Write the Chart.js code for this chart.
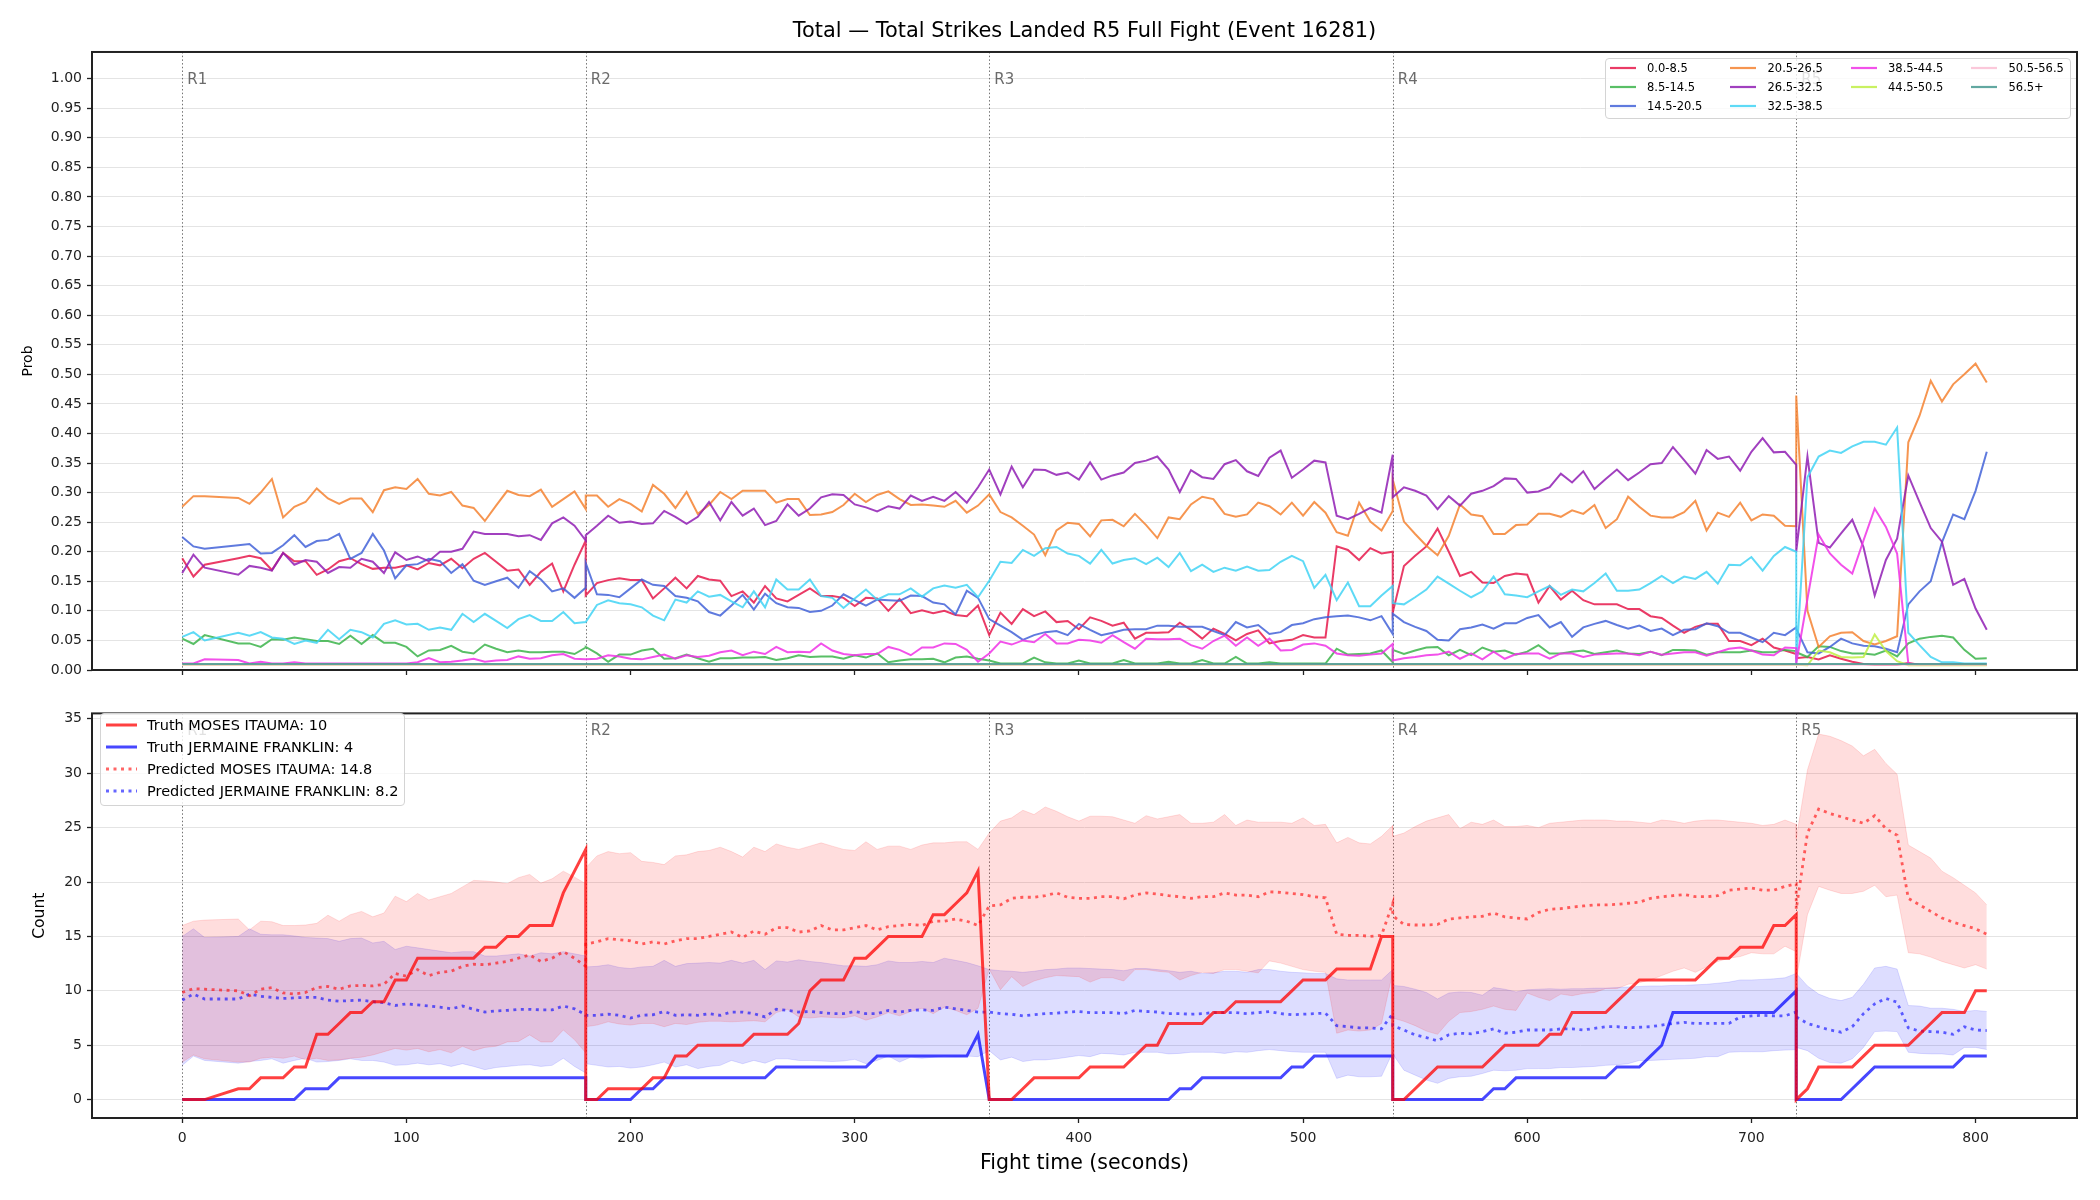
<!DOCTYPE html>
<html>
<head>
<meta charset="utf-8">
<script src="https://cdn.jsdelivr.net/npm/chart.js@4.4.1/dist/chart.umd.min.js"></script>
<style>
body { margin: 0; background: #fff; font-family: 'DejaVu Sans', sans-serif; }
#wrap { position: relative; width: 2100px; height: 1200px; overflow: hidden; }
canvas { position: absolute; left: 0; }
.legend { position: absolute; background: rgba(255,255,255,0.8); border: 1px solid #d4d4d4; border-radius: 4px; box-sizing: border-box; color: #000; z-index: 5; }
.item { position: absolute; white-space: nowrap; display: flex; align-items: center; }
.item svg { display: block; }
</style>
</head>
<body>
<div id="wrap">
  <canvas id="topChart" width="2100" height="700" style="top:0"></canvas>
  <canvas id="bottomChart" width="2100" height="500" style="top:700px"></canvas>
  <div id="legendTop" class="legend" style="left:1605px; top:58px; width:466px; height:61px; font-size:11.5px;"></div>
  <div id="legendBottom" class="legend" style="left:100px; top:713px; width:305px; height:93px; font-size:14.5px;"></div>
</div>
<script>
// sample times (s); each round restarts at its boundary, so 180 / 540 / 720 appear twice
const times = [
  0,5,10,25,30,35,40,45,50,55,60,65,70,75,80,85,90,95,100,105,110,115,120,125,130,135,140,145,150,155,160,165,170,175,180,
  180,185,190,195,200,205,210,215,220,225,230,235,240,245,250,255,260,265,270,275,280,285,290,295,300,305,310,315,320,325,330,335,340,345,350,355,
  360,365,370,375,380,385,390,395,400,405,410,415,420,425,430,435,440,445,450,455,460,465,470,475,480,485,490,495,500,505,510,515,520,525,530,535,540,
  540,545,550,555,560,565,570,575,580,585,590,595,600,605,610,615,620,625,630,635,640,645,650,655,660,665,670,675,680,685,690,695,700,705,710,715,720,
  720,725,730,735,740,745,750,755,760,765,770,775,780,785,790,795,800,805
];

const roundStarts = [0, 180, 360, 540, 720];
const roundNames = ['R1', 'R2', 'R3', 'R4', 'R5'];

const binNames = ['0.0-8.5', '8.5-14.5', '14.5-20.5', '20.5-26.5', '26.5-32.5', '32.5-38.5', '38.5-44.5', '44.5-50.5', '50.5-56.5', '56.5+'];
const binColors = ['#e6194b', '#3cb44b', '#4363d8', '#f58231', '#911eb4', '#42d4f4', '#f032e6', '#bfef45', '#fabed4', '#469990'];

// probabilities per bin
const p0 = [
  .189,.158,.178,.189,.193,.189,.169,.198,.184,.184,.161,.17,.184,.189,.179,.171,.173,.173,.177,.17,.181,.177,.188,.172,.188,.198,.183,.168,.17,.144,.166,.18,.133,.178,.219,
  .126,.147,.152,.155,.152,.152,.121,.138,.156,.138,.159,.153,.151,.125,.133,.114,.142,.121,.116,.127,.138,.125,.125,.122,.108,.122,.121,.1,.12,.096,.101,.096,.1,.093,.091,.109,
  .059,.097,.078,.103,.091,.099,.081,.083,.069,.089,.083,.075,.08,.053,.063,.063,.064,.08,.068,.053,.07,.061,.05,.061,.067,.045,.049,.051,.059,.055,.055,.209,.203,.186,.206,.197,.2,
  .097,.176,.193,.209,.239,.2,.159,.166,.148,.147,.159,.163,.161,.114,.142,.119,.134,.118,.111,.111,.111,.103,.103,.091,.088,.075,.063,.073,.078,.078,.049,.049,.042,.053,.038,.033,.027,
  .02,.022,.018,.025,.019,.014,.01,.009,.009,.009,.012,.009,.009,.009,.009,.009,.009,.009
];
const p1 = [
  .053,.044,.059,.045,.045,.039,.052,.051,.055,.052,.049,.049,.044,.058,.044,.059,.046,.046,.039,.023,.033,.034,.041,.031,.028,.043,.036,.03,.033,.03,.03,.031,.031,.027,.038,
  .039,.028,.014,.026,.026,.033,.036,.019,.02,.026,.02,.014,.02,.02,.021,.021,.022,.017,.02,.025,.022,.023,.023,.019,.025,.021,.028,.013,.016,.018,.018,.019,.013,.021,.023,.019,
  .016,.011,.011,.011,.021,.013,.011,.011,.016,.011,.011,.011,.017,.011,.011,.011,.014,.011,.011,.017,.011,.011,.022,.011,.011,.013,.011,.011,.011,.011,.011,.036,.026,.027,.028,.033,.013,
  .034,.027,.033,.038,.039,.025,.034,.025,.038,.031,.033,.026,.031,.042,.028,.028,.031,.033,.027,.03,.033,.028,.027,.031,.025,.034,.034,.033,.026,.03,.03,.03,.033,.03,.03,.034,.032,
  .03,.022,.04,.039,.032,.028,.028,.026,.033,.023,.045,.053,.056,.058,.055,.034,.019,.02
];
const p2 = [
  .225,.209,.205,.211,.213,.197,.198,.211,.228,.208,.218,.22,.23,.188,.198,.23,.202,.155,.177,.179,.188,.184,.164,.179,.151,.144,.15,.156,.139,.167,.153,.133,.138,.122,.139,
  .181,.128,.127,.123,.138,.153,.144,.142,.125,.122,.116,.098,.092,.109,.127,.102,.129,.113,.106,.105,.098,.1,.109,.128,.118,.109,.119,.118,.117,.126,.125,.114,.111,.094,.134,.122,
  .086,.075,.064,.051,.059,.064,.066,.059,.078,.068,.059,.063,.068,.069,.069,.075,.075,.073,.073,.073,.066,.059,.081,.072,.076,.061,.064,.076,.079,.086,.089,.091,.092,.089,.084,.091,.061,
  .095,.081,.073,.066,.051,.05,.069,.072,.077,.07,.079,.079,.088,.093,.072,.081,.056,.072,.078,.083,.076,.07,.075,.066,.07,.059,.068,.069,.079,.074,.063,.063,.055,.047,.063,.059,.072,
  .07,.03,.028,.039,.053,.045,.041,.04,.036,.03,.111,.133,.15,.216,.263,.255,.303,.369
];
const p3 = [
  .276,.294,.294,.291,.281,.30,.323,.258,.276,.284,.307,.29,.281,.29,.29,.267,.304,.309,.306,.323,.298,.295,.301,.278,.274,.252,.278,.303,.296,.294,.305,.276,.289,.302,.272,
  .295,.295,.276,.289,.281,.268,.313,.298,.274,.301,.264,.279,.301,.289,.303,.303,.303,.283,.289,.289,.262,.263,.267,.279,.298,.284,.296,.302,.289,.279,.28,.278,.276,.286,.266,.278,
  .297,.267,.258,.244,.229,.194,.236,.249,.247,.226,.253,.254,.243,.264,.245,.223,.258,.255,.28,.293,.289,.264,.259,.263,.283,.277,.263,.283,.261,.284,.266,.233,.227,.283,.251,.236,.269,
  .322,.251,.23,.21,.194,.227,.28,.263,.26,.23,.23,.245,.246,.264,.264,.259,.27,.264,.279,.24,.255,.293,.276,.261,.258,.258,.267,.286,.236,.266,.259,.283,.253,.263,.261,.244,.243,
  .464,.10,.039,.057,.063,.064,.049,.043,.049,.057,.385,.43,.489,.454,.483,.5,.518,.486
];
const p4 = [
  .164,.195,.173,.161,.176,.173,.168,.198,.178,.186,.183,.164,.174,.173,.188,.183,.164,.199,.186,.192,.184,.2,.2,.205,.234,.23,.23,.23,.226,.228,.22,.248,.258,.244,.219,
  .228,.244,.261,.249,.251,.247,.248,.269,.259,.247,.259,.284,.253,.284,.261,.273,.245,.252,.28,.261,.273,.292,.297,.296,.28,.275,.268,.277,.273,.295,.286,.293,.286,.301,.283,.309,
  .339,.297,.344,.309,.339,.338,.33,.334,.322,.351,.322,.329,.334,.35,.354,.361,.339,.301,.338,.326,.323,.348,.355,.336,.328,.359,.371,.325,.339,.354,.351,.261,.255,.264,.274,.266,.364,
  .292,.309,.303,.295,.272,.294,.278,.298,.303,.311,.324,.323,.3,.302,.309,.332,.317,.336,.306,.323,.339,.321,.334,.348,.35,.377,.355,.332,.372,.357,.361,.337,.369,.392,.368,.369,.347,
  .2,.361,.215,.207,.231,.254,.208,.126,.186,.222,.329,.284,.24,.217,.144,.154,.104,.068
];
const p5 = [
  .056,.064,.05,.063,.058,.064,.055,.053,.044,.05,.046,.068,.052,.068,.064,.055,.078,.084,.077,.078,.068,.072,.068,.095,.081,.095,.083,.071,.086,.093,.083,.083,.098,.079,.081,
  .081,.11,.118,.113,.111,.106,.092,.084,.119,.114,.133,.124,.127,.116,.106,.133,.106,.153,.136,.136,.153,.125,.122,.105,.121,.136,.119,.128,.128,.138,.124,.138,.143,.139,.144,.123,
  .151,.183,.181,.203,.193,.206,.208,.197,.193,.18,.203,.18,.186,.189,.179,.19,.174,.198,.167,.178,.166,.173,.168,.175,.168,.169,.183,.193,.184,.139,.161,.118,.148,.108,.108,.126,.142,
  .113,.111,.123,.136,.158,.146,.134,.123,.133,.158,.128,.126,.123,.133,.142,.127,.136,.133,.147,.163,.134,.134,.136,.147,.159,.147,.158,.154,.166,.146,.178,.177,.191,.168,.193,.208,.2,
  .012,.326,.361,.371,.367,.378,.386,.386,.381,.41,.063,.042,.022,.013,.013,.011,.011,.011
];
const p6 = [
  .011,.011,.018,.017,.011,.014,.011,.011,.013,.011,.011,.011,.011,.011,.011,.011,.011,.011,.011,.013,.02,.013,.014,.016,.019,.014,.016,.017,.023,.019,.02,.025,.027,.019,.018,
  .018,.019,.025,.023,.019,.018,.022,.026,.019,.025,.022,.024,.03,.033,.025,.031,.027,.039,.03,.031,.03,.045,.033,.027,.025,.027,.027,.039,.034,.025,.038,.038,.045,.044,.034,.014,
  .028,.048,.043,.05,.047,.061,.045,.045,.051,.05,.046,.059,.047,.036,.053,.052,.052,.053,.042,.036,.049,.058,.041,.055,.041,.053,.033,.034,.043,.045,.041,.028,.025,.024,.026,.028,.044,
  .016,.02,.022,.025,.026,.031,.019,.028,.018,.031,.019,.027,.028,.028,.019,.028,.028,.022,.026,.027,.028,.028,.025,.031,.026,.028,.03,.03,.024,.03,.036,.038,.033,.026,.025,.038,.037,
  .011,.12,.229,.197,.178,.163,.219,.273,.242,.197,.011,.009,.009,.009,.009,.009,.009,.009
];
// the last three bins stay near the floor, so only their visible points are kept
const p7Times = [0, 720, 725, 730, 735, 740, 745, 750, 755, 760, 765, 770, 805];
const p7 = [.009, .009, .008, .033, .03, .022, .021, .022, .06, .032, .015, .008, .008];
const p8Times = [0, 805];
const p8 = [.009, .009];
const p9Times = [0, 805];
const p9 = [.01, .01];

// counts
const truthItauma = [
  0,0,0,1,1,2,2,2,3,3,6,6,7,8,8,9,9,11,11,13,13,13,13,13,13,14,14,15,15,16,16,16,19,21,23,
  0,0,1,1,1,1,2,2,4,4,5,5,5,5,5,6,6,6,6,7,10,11,11,11,13,13,14,15,15,15,15,17,17,18,19,21,
  0,0,0,1,2,2,2,2,2,3,3,3,3,4,5,5,7,7,7,7,8,8,9,9,9,9,9,10,11,11,11,12,12,12,12,15,15,
  0,0,1,2,3,3,3,3,3,4,5,5,5,5,6,6,8,8,8,8,9,10,11,11,11,11,11,11,12,13,13,14,14,14,16,16,17,
  0,1,3,3,3,3,4,5,5,5,5,6,7,8,8,8,10,10
];
const truthFranklin = [
  0,0,0,0,0,0,0,0,0,1,1,1,2,2,2,2,2,2,2,2,2,2,2,2,2,2,2,2,2,2,2,2,2,2,2,
  0,0,0,0,0,1,1,2,2,2,2,2,2,2,2,2,2,3,3,3,3,3,3,3,3,3,4,4,4,4,4,4,4,4,4,6,
  0,0,0,0,0,0,0,0,0,0,0,0,0,0,0,0,0,1,1,2,2,2,2,2,2,2,2,3,3,4,4,4,4,4,4,4,4,
  0,0,0,0,0,0,0,0,0,1,1,2,2,2,2,2,2,2,2,2,3,3,3,4,5,8,8,8,8,8,8,8,8,8,8,9,10,
  0,0,0,0,0,1,2,3,3,3,3,3,3,3,3,4,4,4
];
const predItauma = [
  9.85,10.2,10.15,10,9.55,10.15,10.3,9.8,9.7,9.85,10.3,10.4,10.15,10.45,10.5,10.45,10.6,11.6,11.35,11.95,11.4,11.7,11.8,12.25,12.45,12.4,12.55,12.7,13,13.3,12.7,13,13.6,13,12.25,
  14.3,14.5,14.8,14.7,14.6,14.3,14.5,14.3,14.6,14.8,14.8,15,15.2,15.4,14.9,15.5,15.2,15.8,15.8,15.4,15.5,16,15.6,15.6,15.8,16,15.6,15.9,16,16.1,16,16.4,16.4,16.6,16.4,16,
  17.8,17.9,18.5,18.6,18.6,18.75,19,18.6,18.5,18.5,18.65,18.65,18.45,18.8,19,18.9,18.75,18.65,18.5,18.65,18.65,19,18.8,18.8,18.65,19.1,19.05,18.95,18.85,18.65,18.55,15.2,15.1,15.1,15,15.1,18.05,
  16.9,16.1,16.05,16.05,16.1,16.6,16.7,16.8,16.85,17.15,16.8,16.7,16.6,17.2,17.5,17.55,17.7,17.8,17.9,17.9,17.95,18.05,18.15,18.5,18.65,18.75,18.85,18.65,18.65,18.75,19.25,19.35,19.45,19.25,19.25,19.6,19.85,
  17.5,24.5,26.7,26.3,26,25.7,25.4,26.1,24.9,24.3,18.5,17.9,17.3,16.7,16.3,16,15.7,15.2
];
const predFranklin = [
  9.15,9.7,9.25,9.25,9.7,9.5,9.4,9.3,9.35,9.4,9.4,9.15,9.05,9.1,9.15,9,8.9,8.65,8.8,8.7,8.6,8.5,8.35,8.6,8.3,8.05,8.15,8.2,8.3,8.3,8.25,8.25,8.6,8.35,7.8,
  7.75,7.75,7.85,7.75,7.5,7.75,7.8,8.1,7.75,7.8,7.75,7.9,7.75,8.05,8.05,7.9,7.6,8.3,8.2,8.05,8.1,8,7.9,7.9,8.1,7.9,7.9,8.2,8.05,8.2,8.25,8.2,8.5,8.35,8.2,8.05,
  8.05,7.9,7.85,7.7,7.8,7.9,7.95,8.05,8.1,8,8,8,7.9,8.2,8.1,8.05,7.9,7.9,7.85,7.9,8,8,8,7.9,8,8.1,7.9,7.8,7.85,7.9,7.95,6.8,6.7,6.6,6.6,6.5,7.9,
  6.8,6.4,5.95,5.7,5.4,5.95,6.1,6.05,6.25,6.5,6.1,6.2,6.4,6.4,6.4,6.5,6.5,6.4,6.55,6.7,6.7,6.6,6.65,6.7,6.85,7,7.1,7,7,7,7,7.6,7.7,7.75,7.7,7.7,8.05,
  7.6,7,6.7,6.4,6.2,6.7,7.9,8.8,9.3,8.95,6.6,6.3,6.25,6.2,6,6.7,6.4,6.35
];
const itaumaHigh = [
  16,16.4,16.5,16.6,15.6,16.4,16.35,16,16,16.05,16.2,16.95,16.4,17,17.3,16.8,17.15,18.7,18.2,18.95,18.35,18.65,18.95,19.55,20.15,20.1,20,19.85,20.4,20.7,19.9,20.3,21,20.45,19.85,
  21.3,22.4,22.8,22.6,22.7,21.9,21.8,21.6,22.4,22.5,22.8,22.9,23.2,22.8,22.3,23.2,22.8,23.5,23.2,23,23.3,23.6,23.3,23,22.9,23.7,23,23.3,23.3,23,23.4,23.6,23.6,23.7,23.7,23,
  24.5,25.6,25.9,26.6,26.2,26.9,26.5,26,25.6,26.05,26.05,26,25.7,25.4,26.1,25.8,26,26.2,25.4,25.4,25.5,26.2,25.2,25.7,25.5,25.5,25.5,25.4,25.9,25.2,25.3,23.6,24.1,23.6,23.5,24.2,25.2,
  24.2,24.5,25.1,25.6,25.9,26.2,24.9,25.5,25.3,25.7,25.1,25.1,25.2,25,25.4,25.5,25.6,25.7,25.7,25.7,25.6,25.6,25.5,25.4,25.7,25.6,25.4,25.6,25.7,25.7,25.6,25.5,25.4,25.2,25.3,25.7,25.3,
  24,30.3,33.6,33.4,33,32.5,31.6,32.2,30.9,29.9,23.4,22.8,22.2,21,20.4,19.7,19,17.9
];
const itaumaLow = [
  3.45,4.1,3.75,3.45,3.45,3.8,3.9,3.8,4,3.65,3.8,3.6,3.65,3.8,3.9,4.1,4.4,4.7,4.55,4.7,4.4,4.6,4.3,4.9,4.5,4.8,4.9,5.3,5.35,5.95,5.3,5.3,6.4,5.5,4.3,
  6.7,6.85,7.15,6.95,6.85,7,7,6.7,7,6.9,7.1,7.2,7.2,7.15,7.2,7.25,7.15,8,8.3,7.6,7.5,7.6,7.55,7.5,7.7,7.3,7.6,8,7.7,8.1,8.4,7.9,8.5,8.2,7.8,8.4,
  12,10.1,11.3,10.4,10.9,11.2,11.4,11.35,11.3,10.8,11.2,11.2,10.9,11.95,11.95,11.8,11.7,11,11.4,11.7,11.6,11.95,11.95,11.8,11.65,12.75,12.55,12.25,11.95,11.8,11.7,6.1,6.4,6.3,6.4,7,11.7,
  7.5,7.2,6.8,6.3,6,7.2,8,8.1,8.3,8.6,8.3,8.2,9.8,9.4,9.1,9.7,9.55,9.75,9.85,10.2,10.2,10.6,10.75,11,11.4,11.8,12.1,11.7,12.2,12.7,13,13.15,13.5,13.4,13.4,14.1,13.6,
  11,17,19.6,19.25,18.95,18.95,19.15,19.7,18.65,18.8,13.5,13.4,13.1,12.7,12.4,12.1,12.4,12
];
const franklinHigh = [
  15,15.7,14.9,15,15.7,15.2,15.15,15.15,15.05,14.9,14.85,14.8,14.55,14.8,14.85,14.4,14.55,13.8,14.1,13.95,13.8,13.65,13.5,13.6,13.6,13.2,13.2,13.3,13.4,13.2,13.5,13.4,13.6,13.4,13.2,
  12.2,12.25,12.4,12.15,12.05,12.2,12.25,12.8,12.25,12.5,12.55,12.6,12.55,12.8,12.55,12.8,11.95,12.75,12.65,12.85,12.7,12.6,12.45,12.3,12.3,12.25,12.4,12.75,12.6,12.6,12.7,12.6,13,12.8,12.6,12.3,
  11.95,11.85,11.8,11.7,11.8,11.95,12,12.1,12.1,12.05,12,11.95,11.85,12.05,12.05,11.95,11.85,11.7,11.8,11.6,11.65,11.8,11.8,11.7,11.95,11.95,11.8,11.7,11.65,11.6,11.6,11.1,11,11,11,11,11.95,
  10.5,10.4,10.15,9.85,9.25,9.8,9.9,9.85,9.6,10.3,10.15,9.9,10.1,10.15,10.2,10.15,10.2,10.2,10.25,10.25,10.3,10.35,10.4,10.45,10.45,10.5,10.5,10.55,10.6,10.7,10.8,11,11,11.05,11.1,11.2,11.6,
  11.6,10.45,9.7,9.3,9.1,9.4,10.6,12.1,12.25,12,8.65,8.6,8.4,8.4,8.3,8.1,8.2,8.1
];
const franklinLow = [
  3.15,4,3.6,3.35,3.5,3.6,3.75,3.35,3.6,3.8,3.45,3.5,3.6,3.75,3.6,3.6,3.45,3.15,3.2,3.35,3.2,3.3,3.05,3.3,3.05,2.75,2.95,3.05,3.15,3.2,3.05,3.15,3.8,3.05,2.45,
  3.3,3.15,3,3.05,2.9,3,3.2,3.45,3,3.2,2.85,3.05,3.15,3.6,3.3,3.6,3.35,3.75,3.75,3.6,3.6,3.55,3.5,3.55,3.7,3.3,3.6,4,3.45,3.9,3.8,3.9,4,3.95,4,3.95,
  4.5,3.65,3.9,3.5,3.65,3.65,3.75,3.9,4.05,3.95,4.25,4.2,4.1,4.35,4.35,4.35,4.2,4.25,4.35,4.35,4.35,4.25,4.4,4.35,4.5,4.6,4.5,4.4,4.35,4.35,4.35,1.95,2.25,2.1,2.1,2.15,4.35,
  4.2,2.7,2.25,1.8,1.5,1.95,2.1,2.15,2.4,2.7,2.65,2.7,2.85,2.85,2.85,2.95,2.95,3,3.05,3.15,3.2,3.3,3.6,3.6,3.65,3.7,3.75,3.8,3.95,3.95,4.35,4.4,4.4,4.4,4.5,4.55,4.6,
  4.8,4.5,3.8,3.4,3.35,3.75,4.8,6.25,6.3,6.25,4.35,4.25,4.2,4.2,4.1,4.8,4.8,4.6
];

const countLabels = ['Truth MOSES ITAUMA: 10', 'Truth JERMAINE FRANKLIN: 4', 'Predicted MOSES ITAUMA: 14.8', 'Predicted JERMAINE FRANKLIN: 8.2'];
const countColors = ['rgba(255,0,0,0.75)', 'rgba(0,0,255,0.72)', 'rgba(255,0,0,0.6)', 'rgba(0,0,255,0.6)'];

Chart.defaults.font.family = "'DejaVu Sans', sans-serif";
Chart.defaults.color = '#222';

function pts(tt, vals) {
  return tt.map((t, i) => ({ x: t, y: vals[i] }));
}

function withAlpha(hex, a) {
  let n = parseInt(hex.slice(1), 16);
  return 'rgba(' + (n >> 16) + ',' + ((n >> 8) & 255) + ',' + (n & 255) + ',' + a + ')';
}

// dotted round lines under the data, labels and frame on top
const roundMarks = {
  id: 'roundMarks',
  beforeDatasetsDraw(chart) {
    let ctx = chart.ctx, a = chart.chartArea, xs = chart.scales.x;
    ctx.save();
    ctx.strokeStyle = 'rgba(90,90,90,0.85)';
    ctx.lineWidth = 1;
    ctx.setLineDash([1.5, 2.2]);
    roundStarts.forEach(t => {
      let px = Math.round(xs.getPixelForValue(t)) + 0.5;
      ctx.beginPath();
      ctx.moveTo(px, a.top);
      ctx.lineTo(px, a.bottom);
      ctx.stroke();
    });
    ctx.restore();
  },
  afterDatasetsDraw(chart) {
    let ctx = chart.ctx, a = chart.chartArea, xs = chart.scales.x, ys = chart.scales.y;
    ctx.save();
    ctx.fillStyle = 'rgba(70,70,70,0.8)';
    ctx.font = "15px 'DejaVu Sans'";
    ctx.textBaseline = 'middle';
    roundStarts.forEach((t, i) => {
      ctx.fillText(roundNames[i], xs.getPixelForValue(t) + 5, ys.getPixelForValue(ys.max * 0.955));
    });
    ctx.strokeStyle = '#222';
    ctx.lineWidth = 2;
    ctx.strokeRect(a.left, a.top, a.right - a.left, a.bottom - a.top);
    ctx.restore();
  }
};

function xAxis(height, showLabels, extra) {
  let ax = {
    type: 'linear', min: -40.25, max: 845.25,
    afterFit: s => { s.height = height; },
    border: { display: false },
    grid: { drawOnChartArea: false, tickLength: 5, tickColor: '#222', tickWidth: 1.3 },
    ticks: { display: showLabels, stepSize: 100, includeBounds: false, maxRotation: 0, font: { size: 14 }, color: '#222', padding: 7 }
  };
  return Object.assign(ax, extra || {});
}

// ---------- probabilities ----------
let binSeries = [p0, p1, p2, p3, p4, p5, p6];
let topSets = binNames.map((name, i) => {
  let data;
  if (i < 7) data = pts(times, binSeries[i]);
  else if (i === 7) data = pts(p7Times, p7);
  else if (i === 8) data = pts(p8Times, p8);
  else data = pts(p9Times, p9);
  return {
    label: name,
    data: data,
    borderColor: withAlpha(binColors[i], 0.85),
    backgroundColor: withAlpha(binColors[i], 0.85),
    borderWidth: 2,
    pointRadius: 0,
    tension: 0,
    order: binNames.length - i
  };
});

new Chart(document.getElementById('topChart'), {
  type: 'line',
  data: { datasets: topSets },
  options: {
    responsive: false,
    animation: false,
    devicePixelRatio: 1,
    layout: { padding: { left: 0, right: 23, top: 0, bottom: 0 } },
    plugins: {
      legend: { display: false },
      tooltip: { enabled: false },
      title: {
        display: true,
        fullSize: false,
        text: 'Total — Total Strikes Landed R5 Full Fight (Event 16281)',
        color: '#000',
        font: { size: 20.9, weight: 'normal' },
        padding: { top: 18.8, bottom: 8.1 }
      }
    },
    scales: {
      x: xAxis(30, false),
      y: {
        min: 0, max: 1.045,
        afterFit: s => { s.width = 92; },
        border: { display: false },
        grid: { color: '#e4e4e4', tickLength: 5, tickColor: '#222', tickWidth: 1.3 },
        ticks: { stepSize: 0.05, includeBounds: false, autoSkip: false, font: { size: 14 }, color: '#222', padding: 5, callback: v => v.toFixed(2) },
        title: { display: true, text: 'Prob', color: '#000', font: { size: 14 }, padding: { top: 19.6, bottom: 0 } }
      }
    }
  },
  plugins: [roundMarks]
});

// ---------- counts ----------
let bottomSets = [
  { label: countLabels[0], data: pts(times, truthItauma), borderColor: countColors[0], borderWidth: 3 },
  { label: countLabels[1], data: pts(times, truthFranklin), borderColor: countColors[1], borderWidth: 3 },
  { label: countLabels[2], data: pts(times, predItauma), borderColor: countColors[2], borderWidth: 2.8, borderDash: [3, 4.5] },
  { label: countLabels[3], data: pts(times, predFranklin), borderColor: countColors[3], borderWidth: 2.8, borderDash: [3, 4.5] },
  { label: 'itauma low', data: pts(times, itaumaLow), borderColor: 'rgba(255,0,0,0.12)', borderWidth: 1, fill: false },
  { label: 'itauma high', data: pts(times, itaumaHigh), borderColor: 'rgba(255,0,0,0.12)', borderWidth: 1, fill: '-1', backgroundColor: 'rgba(255,0,0,0.135)' },
  { label: 'franklin low', data: pts(times, franklinLow), borderColor: 'rgba(0,0,255,0.12)', borderWidth: 1, fill: false },
  { label: 'franklin high', data: pts(times, franklinHigh), borderColor: 'rgba(0,0,255,0.12)', borderWidth: 1, fill: '-1', backgroundColor: 'rgba(0,0,255,0.135)' }
];
bottomSets.forEach(d => { d.pointRadius = 0; d.tension = 0; });

new Chart(document.getElementById('bottomChart'), {
  type: 'line',
  data: { datasets: bottomSets },
  options: {
    responsive: false,
    animation: false,
    devicePixelRatio: 1,
    layout: { padding: { left: 0, right: 23, top: 6, bottom: 0 } },
    plugins: { legend: { display: false }, tooltip: { enabled: false } },
    scales: {
      x: xAxis(82, true, {
        title: { display: true, text: 'Fight time (seconds)', color: '#000', font: { size: 20.5 }, padding: { top: 0, bottom: 23.7 } }
      }),
      y: {
        min: -1.69, max: 35.5,
        afterFit: s => { s.width = 92; },
        border: { display: false },
        grid: { color: '#e4e4e4', tickLength: 5, tickColor: '#222', tickWidth: 1.3 },
        ticks: { stepSize: 5, includeBounds: false, font: { size: 14 }, color: '#222', padding: 5 },
        title: { display: true, text: 'Count', color: '#000', font: { size: 15.5 }, padding: { top: 30.7, bottom: 0 } }
      }
    }
  },
  plugins: [roundMarks]
});

// ---------- legends ----------
function lineSample(color, width, len, dashed) {
  let dash = dashed ? ' stroke-dasharray="3 4.5"' : '';
  return '<svg width="' + len + '" height="8"><line x1="0" y1="4" x2="' + len + '" y2="4" stroke="' + color +
    '" stroke-width="' + width + '"' + dash + '/></svg>';
}

let legendTop = document.getElementById('legendTop');
binNames.forEach((name, i) => {
  let col = i < 6 ? Math.floor(i / 3) : 2 + Math.floor((i - 6) / 2);
  let row = i < 6 ? i % 3 : (i - 6) % 2;
  let el = document.createElement('div');
  el.className = 'item';
  el.style.left = (3.5 + col * 120.5) + 'px';
  el.style.top = (9.2 + row * 18.9 - 9) + 'px';
  el.style.height = '18px';
  el.innerHTML = lineSample(withAlpha(binColors[i], 0.85), 2.2, 26, false) + '<span style="margin-left:11.5px">' + name + '</span>';
  legendTop.appendChild(el);
});

let legendBottom = document.getElementById('legendBottom');
countLabels.forEach((name, i) => {
  let el = document.createElement('div');
  el.className = 'item';
  el.style.left = '5px';
  el.style.top = (11 + i * 22.1 - 10) + 'px';
  el.style.height = '20px';
  el.innerHTML = lineSample(countColors[i], i < 2 ? 3 : 2.8, 31, i >= 2) + '<span style="margin-left:10px">' + name + '</span>';
  legendBottom.appendChild(el);
});
</script>
</body>
</html>
